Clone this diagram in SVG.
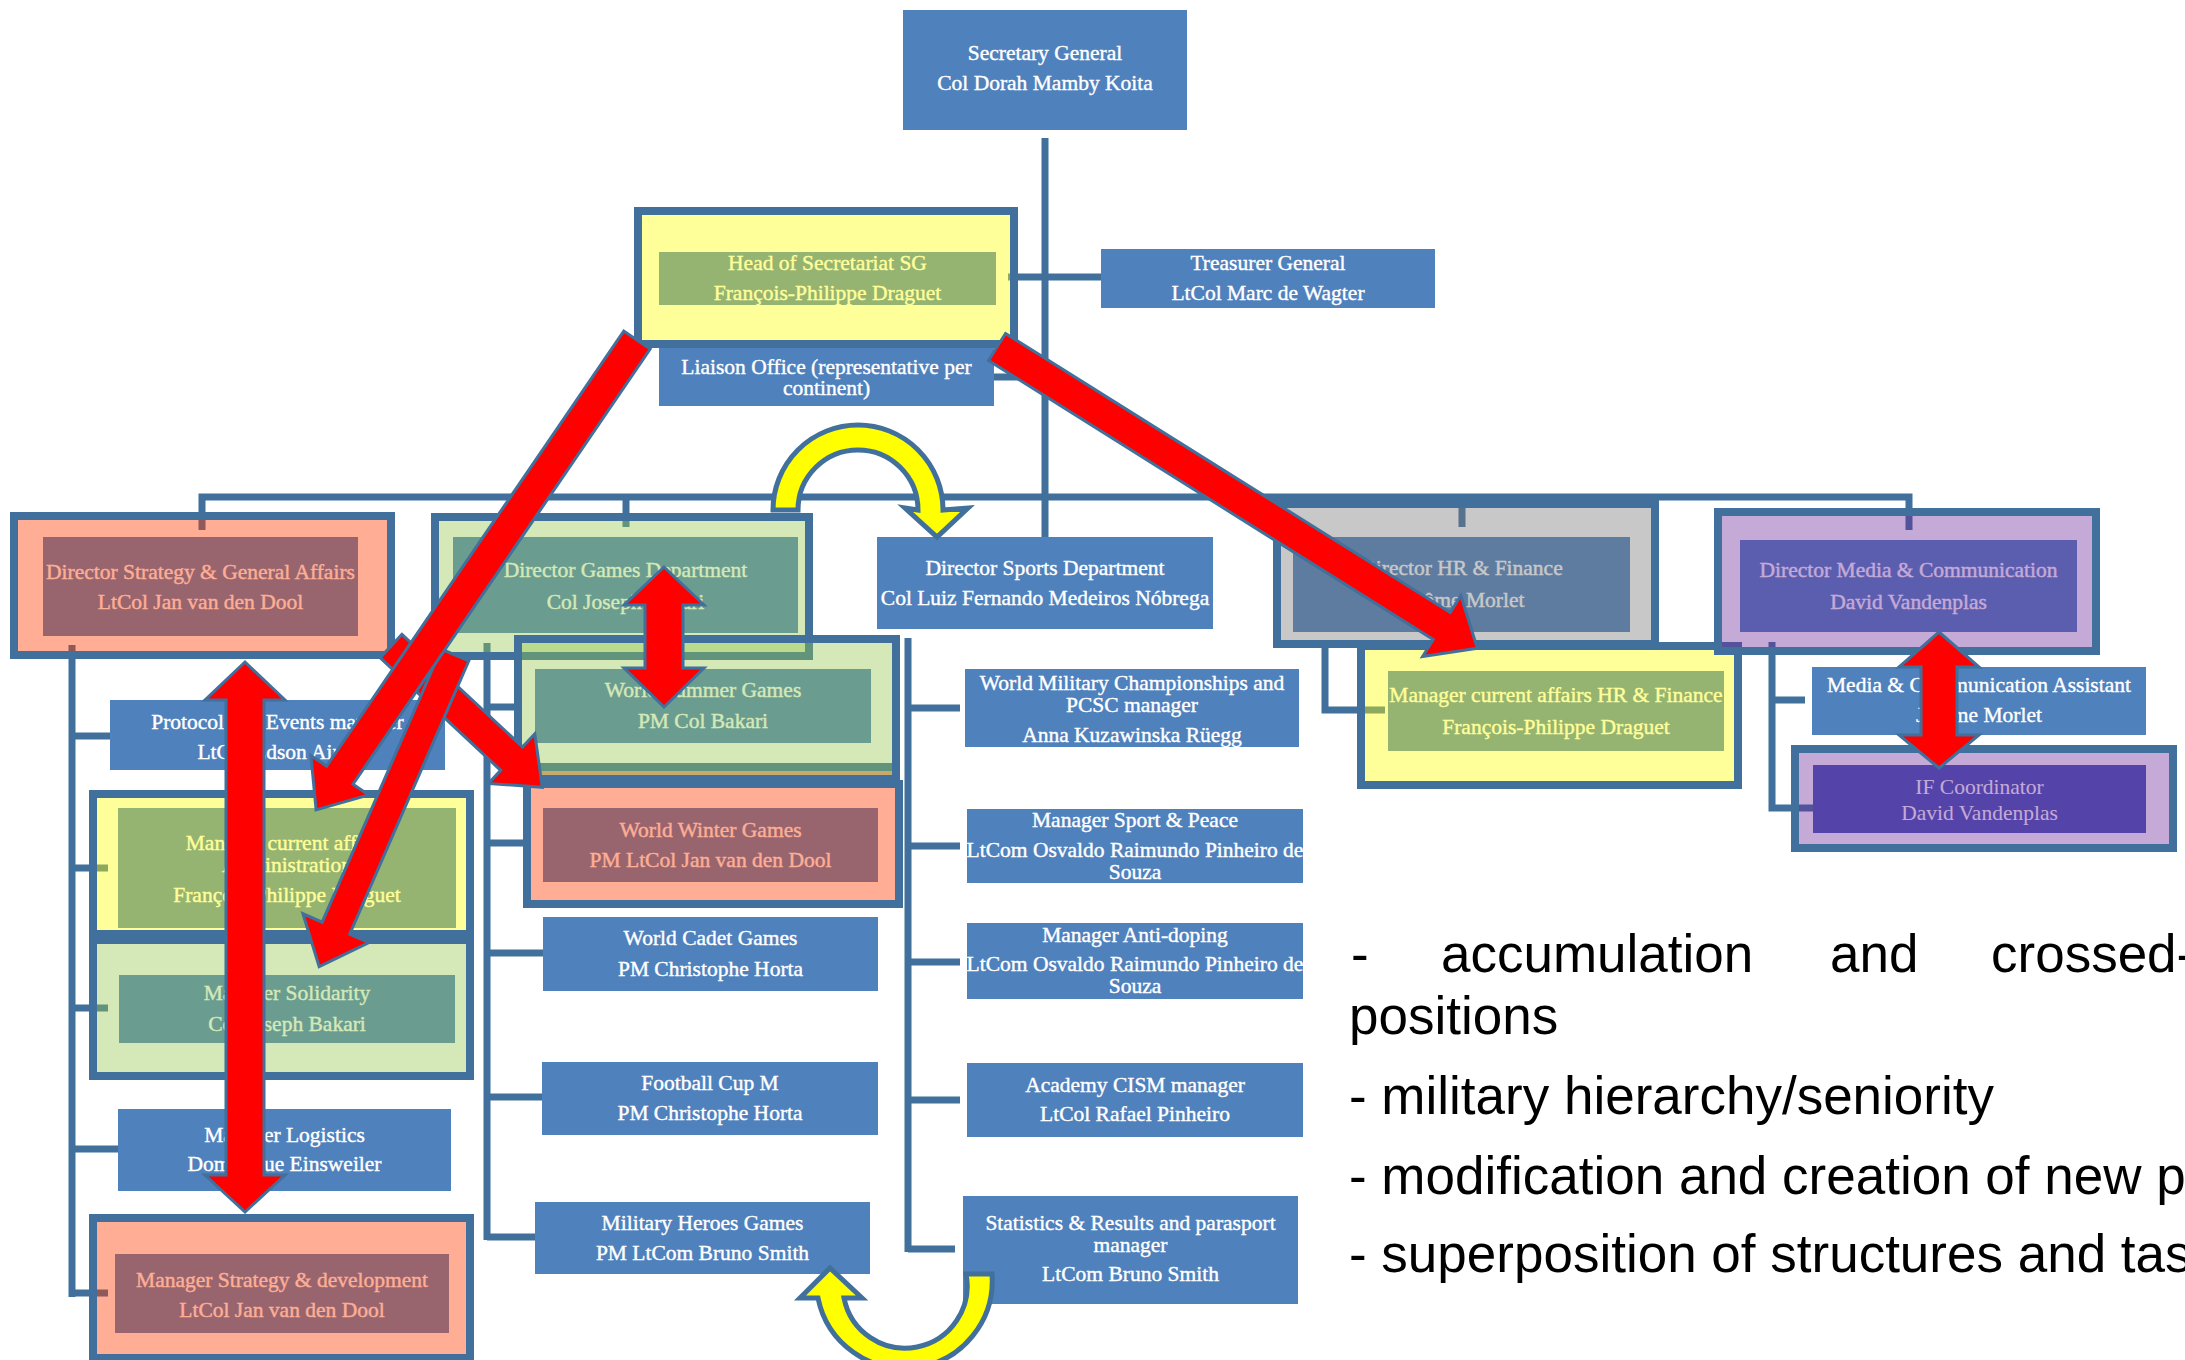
<svg xmlns="http://www.w3.org/2000/svg" width="2185" height="1360" viewBox="0 0 2185 1360">
<style>
.box{fill:#4f81bd}
.t{font-family:"Liberation Serif","Times New Roman",serif;font-size:21.5px;fill:#fff;stroke:#fff;stroke-width:0.4;text-anchor:middle}
.ti{font-family:"Liberation Serif","Times New Roman",serif;font-size:21.5px;fill:#fff;text-anchor:middle}
.frame{stroke:#41709c;stroke-width:8}
.fy{fill:#ffff00;fill-opacity:0.4}
.fs{fill:#ff3c00;fill-opacity:0.42}
.fg{fill:#93c84b;fill-opacity:0.4}
.fk{fill:#757575;fill-opacity:0.4}
.fl{fill:#6e289b;fill-opacity:0.4}
.conn path{fill:none;stroke:#41709c;stroke-width:7}
.red{fill:#ff0000;stroke:#41709c;stroke-width:3;stroke-linejoin:miter}
.yel{fill:#ffff00;stroke:#41709c;stroke-width:5;stroke-linejoin:miter}
.note{font-family:"Liberation Sans",Arial,sans-serif;font-size:53px;fill:#000}
</style>
<rect width="2185" height="1360" fill="#fff"/>
<g id="connectors" class="conn">
<path d="M1045,138 V537"/>
<path d="M1008,277 H1101"/>
<path d="M994,377 H1045"/>
<path d="M202,530 V497 H1909 V530"/>
<path d="M626,497 V527"/>
<path d="M1462,497 V527"/>
<path d="M72,645 V1297 M72,736 H111 M72,868 H108 M72,1008 H108 M72,1149 H118 M72,1293 H108"/>
<path d="M487,643 V1240 M487,707 H517 M487,843 H528 M487,953 H543 M487,1097 H542 M487,1237 H535"/>
<path d="M908,638 V1252 M908,708 H960 M908,846 H960 M908,962 H960 M908,1100 H960 M908,1249 H955"/>
<path d="M1325,640 V710 H1385"/>
<path d="M1772,642 V808 H1813 M1772,700 H1805"/>
</g>
<g id="secretary-general"><rect class="box" x="903" y="10" width="284" height="120"/><text class="t" x="1045" y="60">Secretary General</text><text class="t" x="1045" y="90">Col Dorah Mamby Koita</text></g>
<g id="treasurer-general"><rect class="box" x="1101" y="249" width="334" height="59"/><text class="t" x="1268" y="270">Treasurer General</text><text class="t" x="1268" y="300">LtCol Marc de Wagter</text></g>
<g id="liaison-office"><rect class="box" x="659" y="346" width="335" height="60"/><text class="t" x="826.5" y="374">Liaison Office (representative per</text><text class="t" x="826.5" y="395">continent)</text></g>
<g id="director-sports"><rect class="box" x="877" y="537" width="336" height="92"/><text class="t" x="1045" y="575">Director Sports Department</text><text class="t" x="1045" y="605">Col Luiz Fernando Medeiros Nóbrega</text></g>
<g id="protocol"><rect class="box" x="110" y="700" width="335" height="70"/><text class="t" x="277.5" y="729">Protocol and Events manager</text><text class="t" x="277.5" y="759">LtCol Edson Aires</text></g>
<g id="logistics"><rect class="box" x="118" y="1109" width="333" height="82"/><text class="t" x="284.5" y="1142">Manager Logistics</text><text class="t" x="284.5" y="1171">Dominique Einsweiler</text></g>
<g id="cadet-games"><rect class="box" x="543" y="917" width="335" height="74"/><text class="t" x="710.5" y="945">World Cadet Games</text><text class="t" x="710.5" y="976">PM Christophe Horta</text></g>
<g id="football-cup"><rect class="box" x="542" y="1062" width="336" height="73"/><text class="t" x="710" y="1090">Football Cup M</text><text class="t" x="710" y="1120">PM Christophe Horta</text></g>
<g id="heroes-games"><rect class="box" x="535" y="1202" width="335" height="72"/><text class="t" x="702.5" y="1230">Military Heroes Games</text><text class="t" x="702.5" y="1260">PM LtCom Bruno Smith</text></g>
<g id="wmc"><rect class="box" x="965" y="669" width="334" height="78"/><text class="t" x="1132" y="690">World Military Championships and</text><text class="t" x="1132" y="712">PCSC manager</text><text class="t" x="1132" y="742">Anna Kuzawinska Rüegg</text></g>
<g id="sport-peace"><rect class="box" x="967" y="809" width="336" height="74"/><text class="t" x="1135" y="827">Manager Sport &amp; Peace</text><text class="t" x="1135" y="857">LtCom Osvaldo Raimundo Pinheiro de</text><text class="t" x="1135" y="879">Souza</text></g>
<g id="anti-doping"><rect class="box" x="967" y="923" width="336" height="76"/><text class="t" x="1135" y="942">Manager Anti-doping</text><text class="t" x="1135" y="971">LtCom Osvaldo Raimundo Pinheiro de</text><text class="t" x="1135" y="993">Souza</text></g>
<g id="academy"><rect class="box" x="967" y="1063" width="336" height="74"/><text class="t" x="1135" y="1092">Academy CISM manager</text><text class="t" x="1135" y="1121">LtCol Rafael Pinheiro</text></g>
<g id="statistics"><rect class="box" x="963" y="1196" width="335" height="108"/><text class="t" x="1130.5" y="1230">Statistics &amp; Results and parasport</text><text class="t" x="1130.5" y="1252">manager</text><text class="t" x="1130.5" y="1281">LtCom Bruno Smith</text></g>
<g id="media-assistant"><rect class="box" x="1812" y="667" width="334" height="68"/><text class="t" x="1979" y="692">Media &amp; Communication Assistant</text><text class="t" x="1979" y="722">Jérôme Morlet</text></g>
<g id="head-secretariat"><rect class="box" x="659" y="252" width="337" height="53"/><text class="t" x="827.5" y="270">Head of Secretariat SG</text><text class="t" x="827.5" y="300">François-Philippe Draguet</text><rect class="frame fy" x="638" y="211" width="376" height="133"/></g>
<g id="director-strategy"><rect class="box" x="43" y="537" width="315" height="99"/><text class="t" x="200.5" y="579">Director Strategy &amp; General Affairs</text><text class="t" x="200.5" y="609">LtCol Jan van den Dool</text><rect class="frame fs" x="14" y="516" width="377" height="139"/></g>
<g id="director-games"><rect class="box" x="453" y="537" width="345" height="96"/><text class="t" x="625.5" y="577">Director Games Department</text><text class="t" x="625.5" y="609">Col Joseph Bakari</text><rect class="frame fg" x="435" y="517" width="374" height="139"/></g>
<g id="summer-games"><rect class="box" x="535" y="669" width="336" height="74"/><rect x="535" y="763" width="357" height="8" fill="#41709c"/><text class="t" x="703" y="697">World Summer Games</text><text class="t" x="703" y="728">PM Col Bakari</text><rect class="frame fg" x="518" y="639" width="378" height="139"/><rect x="536" y="771" width="356" height="4" fill="#c8a96b"/></g>
<g id="winter-games"><rect class="box" x="543" y="808" width="335" height="74"/><text class="t" x="710.5" y="837">World Winter Games</text><text class="t" x="710.5" y="867">PM LtCol Jan van den Dool</text><rect class="frame fs" x="527" y="784" width="372" height="120"/></g>
<g id="current-affairs-admin"><rect class="box" x="118" y="808" width="338" height="120"/><text class="t" x="287" y="850">Manager current affairs</text><text class="t" x="287" y="872">Administration</text><text class="t" x="287" y="902">François-Philippe Draguet</text><rect class="frame fy" x="93" y="794" width="377" height="140"/></g>
<g id="solidarity"><rect class="box" x="119" y="975" width="336" height="68"/><text class="t" x="287" y="1000">Manager Solidarity</text><text class="t" x="287" y="1031">Col Joseph Bakari</text><rect class="frame fg" x="93" y="940" width="377" height="136"/></g>
<g id="strategy-development"><rect class="box" x="115" y="1254" width="334" height="79"/><text class="t" x="282" y="1287">Manager Strategy &amp; development</text><text class="t" x="282" y="1317">LtCol Jan van den Dool</text><rect class="frame fs" x="93" y="1218" width="377" height="140"/></g>
<g id="director-hr"><rect class="box" x="1293" y="537" width="337" height="95"/><text class="t" x="1461.5" y="575">Director HR &amp; Finance</text><text class="t" x="1461.5" y="607">Jérôme Morlet</text><rect class="frame fk" x="1277" y="504" width="378" height="140"/></g>
<g id="current-affairs-hr"><rect class="box" x="1388" y="671" width="336" height="80"/><text class="t" x="1556" y="702">Manager current affairs HR &amp; Finance</text><text class="t" x="1556" y="734">François-Philippe Draguet</text><rect class="frame fy" x="1361" y="646" width="377" height="139"/></g>
<g id="director-media"><rect class="box" x="1740" y="540" width="337" height="92"/><text class="t" x="1908.5" y="577">Director Media &amp; Communication</text><text class="t" x="1908.5" y="609">David Vandenplas</text><rect class="frame fl" x="1718" y="512" width="378" height="139"/></g>
<g id="if-coordinator"><rect x="1813" y="765" width="333" height="68" fill="#4358b4"/><text class="ti" x="1979.5" y="794">IF Coordinator</text><text class="ti" x="1979.5" y="820">David Vandenplas</text><rect class="frame fl" x="1795" y="749" width="378" height="99"/></g>
<g id="red-arrows">
<polygon class="red" transform="translate(391,646) rotate(43.04)" points="0,-16 165,-16 165,-34 207,0 165,34 165,16 0,16"/>
<polygon class="red" transform="translate(455,655) rotate(113.55)" points="0,-15 298,-15 298,-36 340,0 298,36 298,15 0,15"/>
<polygon class="red" transform="translate(637,340) rotate(124.33)" points="0,-16 527,-16 527,-35 569,0 527,35 527,16 0,16"/>
<polygon class="red" transform="translate(997,347) rotate(32.1)" points="0,-16 525,-16 525,-36 567,0 525,36 525,16 0,16"/>
<polygon class="red" points="664,567 704,605 683,605 683,668 704,668 664,707 624,668 645,668 645,605 624,605"/>
<polygon class="red" points="245,662 285,700 264,700 264,1175 285,1175 245,1212 205,1175 226,1175 226,700 205,700"/>
<polygon class="red" points="1939,632 1979,667 1957,667 1957,735 1979,735 1939,768 1899,735 1921,735 1921,667 1899,667"/>
</g>
<g id="yellow-arrows">
<path class="yel" d="M773,510 A85,85 0 0 1 943,510 L968,508 L937,537 L905,508 L918,510 A60,60 0 0 0 798,510 Z"/>
<path class="yel" d="M966,1274 L992,1274 A88,88 0 0 1 818,1298 L800,1298 L830,1268 L862,1298 L844,1298 A62,62 0 0 0 966,1274 Z"/>
</g>
<g id="notes">
<text class="note" y="972"><tspan x="1351">-</tspan><tspan x="1441">accumulation</tspan><tspan x="1830">and</tspan><tspan x="1991">crossed-</tspan></text>
<text class="note" x="1349" y="1034">positions</text>
<text class="note" x="1349" y="1114">- military hierarchy/seniority</text>
<text class="note" x="1349" y="1194">- modification and creation of new p</text>
<text class="note" x="1349" y="1272">- superposition of structures and tas</text>
</g>
</svg>
